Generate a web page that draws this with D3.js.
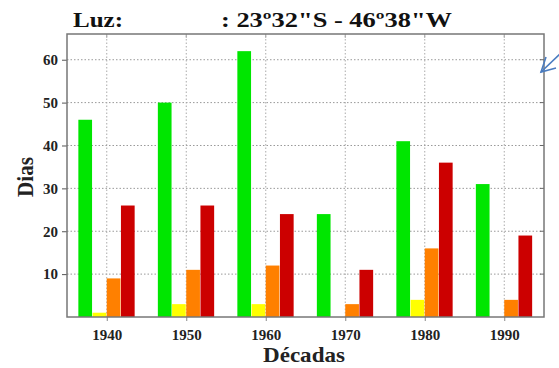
<!DOCTYPE html>
<html>
<head>
<meta charset="utf-8">
<script src="https://cdn.jsdelivr.net/npm/d3@7"></script>
<style>
    body { margin: 0; background: #fff; }
    svg text { font-family: "Liberation Serif", "DejaVu Serif", serif; font-weight: bold; }
</style>
</head>
<body>
<svg width="559" height="368"></svg>
<script>
const width = 559, height = 368;

// data
const decades = [1940, 1950, 1960, 1970, 1980, 1990];
const green  = [46, 50, 62, 24, 41, 31];
const yellow = [1, 3, 3, 0, 4, 0];
const orange = [9, 11, 12, 3, 16, 4];
const red    = [26, 26, 24, 11, 36, 19];
const yTicks = [10, 20, 30, 40, 50, 60];

const series = [
    { name: "green", color: "#00e600", values: green },
    { name: "yellow", color: "#ffff00", values: yellow },
    { name: "orange", color: "#ff8000", values: orange },
    { name: "red", color: "#cc0000", values: red }
];

const margin = { left: 67, right: 15, top: 34, bottom: 51 };
const svg = d3.select("svg");

const x = d3.scaleLinear().domain([1935, 1995]).range([margin.left, width - margin.right]);
const y = d3.scaleLinear().domain([0, 66]).range([height - margin.bottom, margin.top]);

// inner band for the 4 bars of a decade
const barW = 14.2;
const inner = d3.scaleBand().domain(series.map(s => s.name))
    .range([-2 * barW, 2 * barW]);

// Grid lines (dotted)
svg.append("g").selectAll("line")
    .data(yTicks)
    .enter().append("line")
    .attr("x1", x.range()[0])
    .attr("x2", x.range()[1])
    .attr("y1", d => y(d))
    .attr("y2", d => y(d))
    .style("stroke", "#999")
    .style("stroke-width", 1)
    .style("stroke-dasharray", "1.5,2");

svg.append("g").selectAll("line")
    .data(decades)
    .enter().append("line")
    .attr("x1", d => x(d))
    .attr("x2", d => x(d))
    .attr("y1", y.range()[0])
    .attr("y2", y.range()[1])
    .style("stroke", "#aaa")
    .style("stroke-width", 1)
    .style("stroke-dasharray", "1.5,2");

// Bars
series.forEach(s => {
    svg.append("g").selectAll("rect")
        .data(decades.map((d, i) => ({ decade: d, value: s.values[i] })))
        .enter().append("rect")
        .attr("x", d => x(d.decade) + inner(s.name))
        .attr("width", inner.bandwidth() - 0.5)
        .attr("y", d => y(d.value))
        .attr("height", d => y(0) - y(d.value))
        .attr("fill", s.color);
});

// Axes
const xAxis = svg.append("g")
    .attr("transform", `translate(0,${y(0)})`)
    .call(d3.axisBottom(x).tickValues(decades).tickFormat(d3.format("d")).tickSize(4).tickSizeOuter(0).tickPadding(8));
xAxis.select(".domain").remove();
xAxis.selectAll("line").style("stroke", "#888");
xAxis.selectAll("text").style("font-size", "15px").attr("fill", "#222");

const yAxis = svg.append("g")
    .attr("transform", `translate(${x.range()[0]},0)`)
    .call(d3.axisLeft(y).tickValues(yTicks).tickSize(5).tickSizeOuter(0).tickPadding(4));
yAxis.select(".domain").remove();
yAxis.selectAll("line").style("stroke", "#555");
yAxis.selectAll("text").style("font-size", "15px").attr("fill", "#222");

// inward ticks on top and right
svg.append("g").selectAll("line")
    .data(decades)
    .enter().append("line")
    .attr("x1", d => x(d)).attr("x2", d => x(d))
    .attr("y1", y.range()[1]).attr("y2", y.range()[1] + 4)
    .style("stroke", "#aaa");
svg.append("g").selectAll("line")
    .data(yTicks)
    .enter().append("line")
    .attr("x1", x.range()[1] - 4).attr("x2", x.range()[1])
    .attr("y1", d => y(d)).attr("y2", d => y(d))
    .style("stroke", "#666");

// frame
svg.append("rect")
    .attr("x", x.range()[0])
    .attr("y", y.range()[1])
    .attr("width", x.range()[1] - x.range()[0])
    .attr("height", y.range()[0] - y.range()[1])
    .attr("fill", "none")
    .style("stroke", "#777")
    .style("stroke-width", 1.5);

// Labels
svg.append("text")
    .attr("x", 73).attr("y", 27)
    .attr("font-size", "22px")
    .attr("textLength", 50)
    .attr("lengthAdjust", "spacingAndGlyphs")
    .attr("fill", "#111")
    .text("Luz:");
svg.append("text")
    .attr("x", 221).attr("y", 27)
    .attr("font-size", "22px")
    .attr("textLength", 231)
    .attr("lengthAdjust", "spacingAndGlyphs")
    .attr("fill", "#111")
    .text(": 23º32\"S - 46º38\"W");

svg.append("text")
    .attr("x", 304).attr("y", 362)
    .attr("text-anchor", "middle")
    .attr("font-size", "21px")
    .attr("textLength", 82)
    .attr("lengthAdjust", "spacingAndGlyphs")
    .attr("fill", "#222")
    .text("Décadas");

svg.append("text")
    .attr("transform", "translate(33,177) rotate(-90)")
    .attr("text-anchor", "middle")
    .attr("font-size", "23px")
    .attr("textLength", 40)
    .attr("lengthAdjust", "spacingAndGlyphs")
    .attr("fill", "#222")
    .text("Dias");

// blue arrow annotation
const arrow = svg.append("g").style("stroke", "#4a7cc0").style("stroke-width", 1.6).style("fill", "none");
arrow.append("line").attr("x1", 562).attr("y1", 52).attr("x2", 541).attr("y2", 72);
arrow.append("polyline").attr("points", "546,57 541,72 556,68");
</script>
</body>
</html>
